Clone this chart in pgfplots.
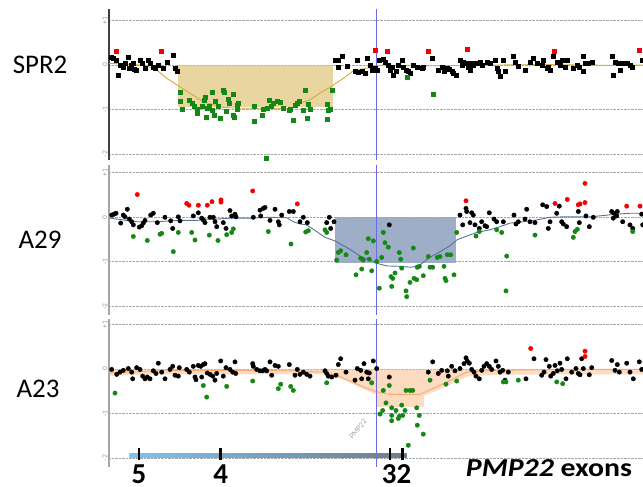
\documentclass[border=0pt]{standalone}
\usepackage{fontspec}
\setmainfont{Carlito}
\usepackage{pgfplots}
\pgfplotsset{compat=1.18}

\definecolor{ptgreen}{RGB}{20,135,20}
\definecolor{ptred}{RGB}{245,0,0}
\definecolor{tanbox}{RGB}{224,195,119}
\definecolor{tanline}{RGB}{215,168,60}
\definecolor{slatebox}{RGB}{154,170,196}
\definecolor{slateline}{RGB}{85,115,155}
\definecolor{peachbox}{RGB}{250,190,140}
\definecolor{peachline}{RGB}{245,170,115}
\definecolor{cursor}{RGB}{105,105,240}
\definecolor{gridgray}{RGB}{165,165,165}
\definecolor{barleft}{RGB}{125,195,240}
\definecolor{barright}{RGB}{110,125,140}

\pgfplotsset{
  panel/.style={
    x=1bp, y=44.6bp,
    xmin=109, xmax=643,
    axis x line=none,
    axis y line*=left,
    y axis line style={-, draw=gray!70, line width=1.4bp},
    ytick={-2,-1,0,1},
    yticklabels={-2,-1,0,+1},
    major tick length=0pt,
    yticklabel style={rotate=90, anchor=south, inner sep=1.5bp,
      font=\fontsize{7.5}{7.5}\selectfont, text=gray!80},
    /pgf/number format/assume math mode=true,
    ymajorgrids,
    grid style={densely dotted, gridgray, line width=0.8bp},
    clip=false,
    anchor=north west,
  },
  pts/.style={only marks, mark=*, mark size=2.2bp, #1, mark options={draw=#1, fill=#1}},
  sqpts/.style={only marks, mark=square*, mark size=2bp, #1, mark options={draw=#1, fill=#1}},
}

\begin{document}
\begin{tikzpicture}
\useasboundingbox (0,0) rectangle (643bp,-487bp);

% ---------------- SPR2 ----------------
\begin{axis}[panel, at={(109bp,-9.25bp)}, ymin=-2.12, ymax=1.25,
  y axis line style={-, draw=black!75, line width=1.8bp}]
\addplot[sqpts=black] coordinates {
(110.7,0.17)(112.7,0.15)(116,0.11)(118.3,-0.22)(120,0)(122.7,-0.06)(125,0.04)(128.3,0.17)
(129.3,-0.07)(130.7,0)(132.7,0.05)(134,-0.1)(136,-0.11)(140,0.11)(141.7,0.05)(145,-0.07)
(148.3,0.11)(150,0.04)(153.3,-0.04)(155,-0.07)(158.3,0)(162.7,-0.07)(166.7,0.07)(173.3,0.22)
(175,-0.07)(176.7,-0.13)
(335,0.11)(338.3,0.1)(338.3,-0.05)(341.7,0.2)(346.7,-0.02)(356.7,0.1)(355,-0.15)(358.3,-0.17)
(361.7,-0.15)(365,-0.19)(367.3,0.15)(370,0)(371.7,-0.11)(375,-0.07)(377.3,-0.11)(379.3,0.11)
(382.7,0.13)(385,0.07)(388.3,0)(390,-0.11)(391.7,-0.04)(393.3,-0.22)(396,-0.15)(398.3,0)
(401.7,0.11)(403.3,-0.04)(406,-0.11)(408.3,-0.15)(410,-0.19)(413.3,0)(416.7,-0.04)(421.7,-0.07)
(423.3,-0.04)(431.7,0.15)(438.3,-0.11)(441.7,-0.04)(444,-0.15)(446.7,-0.07)(449.3,-0.1)
(451.7,-0.15)(453.3,-0.19)(456,-0.22)(460,0.11)(461.7,0)(463.3,0.07)(466.7,0.04)(468.3,-0.04)
(470,-0.11)(471.7,0.05)(473.3,0)(476.7,0.04)(480,0.07)(481.7,0)(486.7,0.07)(490,0.04)(495,0.1)
(496.7,-0.07)(498.3,-0.13)(500,-0.25)(503.3,0.11)(505,-0.15)(512.7,0.2)(515,0.07)(518.3,-0.02)
(525,-0.11)(530,0.07)(533.3,0.15)(536.7,0.04)(541.7,0)(543.3,0.1)(546.7,-0.07)(548.3,-0.04)
(550,-0.11)(553.3,0.2)(556.7,0.07)(560,0)(561.7,0.1)(565,-0.04)(566.7,0.11)(573.3,-0.07)
(576.7,0)(579.3,-0.04)(583.3,0.2)(583.3,-0.15)(585,0.04)(588.3,0.05)(591.7,0.07)(611.7,0.19)
(612.7,-0.22)(615,0.07)(620,-0.11)(618.3,0.05)(623.3,0.04)(626.7,0.04)(630,0)(631.7,-0.04)
(641.7,0.11)
};
\addplot[sqpts=ptgreen] coordinates {
(180,-0.62)(180,-0.82)(182,-0.98)(189.3,-0.78)(191.7,-0.86)(194,-0.93)(196.7,-1.0)(197.3,-1.08)
(201.7,-0.92)(204,-0.78)(205,-0.72)(205.7,-1.17)(207.3,-0.97)(209.3,-0.92)(211.7,-0.62)
(212.3,-1.02)(214,-1.13)(215,-0.82)(218.3,-0.92)(220,-1.19)(222.7,-0.57)(224,-0.62)(226,-1.04)
(228.3,-0.77)(229.3,-0.86)(232.7,-0.65)(233.3,-1.12)(234,-1.17)(236.7,-0.9)(238.3,-0.86)
(237.3,-1.0)(254,-0.93)(254,-1.25)(261.7,-1.12)(262.7,-1.0)(266,-2.08)(266.7,-0.97)
(269.3,-0.78)(270.7,-0.92)(272.7,-0.86)(276.7,-0.82)(280,-0.84)(282.7,-0.97)(289.3,-1.02)
(290,-1.0)(292.7,-1.23)(295,-0.9)(297.3,-0.86)(299.3,-0.82)(302.7,-1.02)(305,-0.56)
(306.7,-1.19)(308.3,-0.87)(310,-1.0)(326.7,-0.87)(327.3,-1.21)(328.3,-1.02)(330,-0.99)
(331.7,-0.57)(406.7,-0.28)(432.7,-0.65)
};
\addplot[sqpts=ptred] coordinates {
(116,0.3)(160.7,0.31)(375,0.34)(386.7,0.3)(428.3,0.3)(466.7,0.35)(554,0.3)(639.3,0.34)
};
\addplot[draw=none, fill=tanbox, fill opacity=0.7] coordinates {
(178,0)(333.3,0)(333.3,-0.95)(178,-0.95)};
\addplot[tanline, line width=0.9bp] coordinates {
(109,0.04)(130,0.01)(145,0)(156.7,-0.11)(166.7,-0.3)(180,-0.49)(190,-0.63)(203,-0.82)
(223,-0.95)(240,-0.97)(276.7,-0.97)(290,-1.0)(300,-0.86)(310,-0.78)(320,-0.63)(330,-0.5)
(343.3,-0.3)(353.3,-0.13)(366.7,-0.07)(383.3,0)(420,-0.02)(460,-0.01)(500,0)(540,0.01)
(580,0)(620,-0.01)(643,0)};
\addplot[cursor, line width=1bp] coordinates {(376.5,-2.12)(376.5,1.25)};
\node[font=\fontsize{27}{27}\selectfont, anchor=center] at (axis cs:40,0) {SPR2};
\end{axis}

% ---------------- A29 ----------------
\begin{axis}[panel, at={(109bp,-165.1bp)}, ymin=-2.18, ymax=1.17]
\addplot[draw=none, fill=slatebox, fill opacity=0.95] coordinates {
(335,0)(455.7,0)(455.7,-1.02)(335,-1.02)};
\addplot[slateline, line width=0.9bp] coordinates {
(110,-0.02)(123.3,-0.06)(136.7,-0.1)(156.7,-0.1)(170,-0.08)(183.3,-0.07)(196.7,-0.07)
(206.7,-0.04)(216.7,-0.04)(230,-0.02)(250,-0.02)(270,0)(286.7,-0.01)(293.3,-0.1)(300,-0.15)
(306.7,-0.17)(316.7,-0.32)(325,-0.45)(335,-0.53)(350,-0.72)(360,-0.87)(370,-0.96)(376.7,-1.03)
(386.7,-1.09)(400,-1.1)(411.7,-1.12)(420,-1.07)(428.3,-0.92)(440,-0.77)(450,-0.64)
(456.7,-0.51)(463.3,-0.45)(476.7,-0.34)(490,-0.28)(500,-0.21)(510,-0.13)(523.3,-0.1)
(536.7,-0.06)(550,0)(563.3,0.01)(590,0.01)(616.7,0.07)(630,0.09)(643,0.09)};
\addplot[pts=black] coordinates {
(111.7,0.05)(114,0.07)(116,0.09)(120.7,-0.13)(123.3,0.05)(125,0.01)(127.3,0.18)(129.3,-0.04)
(131.7,-0.1)(133.3,-0.17)(139.3,-0.22)(141.7,-0.19)(143.3,-0.13)(145,-0.07)(150.7,0.05)
(153.3,0.09)(157.3,-0.12)(165,0)(170.7,-0.08)(172.7,-0.25)(178.3,0.01)(180,-0.08)(193.3,0.03)
(198.3,0.1)(201.7,-0.02)(203.3,-0.06)(205,-0.12)(210,0)(213.3,0)(215,-0.1)(216.7,-0.21)
(223.3,-0.12)(226,-0.25)(230,0.15)(231.7,0.03)(235,0.07)(236,0.01)(253.3,0)(260,0.16)
(263.3,0.2)(265,0.22)(260.7,0.03)(270,-0.07)(275,0.18)(278.3,-0.1)(279.3,-0.17)(281.7,0.05)
(289.3,0.13)(293.3,0.13)(300,-0.1)(303.3,0)(307.3,-0.12)(326.7,-0.12)(329.3,0)(330.7,-0.25)
(334,-0.1)(389.3,-0.17)
(460,0.05)(462.7,-0.17)(466,0.2)(466.7,0.13)(470,-0.12)(471.7,0.1)(473.3,0.05)(475,-0.17)
(479.3,-0.25)(481.7,-0.1)(485,-0.19)(486.7,-0.21)(489.3,0.1)(494,-0.04)(496.7,-0.1)(503.3,-0.1)
(514,0.05)(516,-0.15)(518.3,-0.1)(525,-0.04)(526.7,0.18)(530,-0.1)(535,-0.12)(542.7,0.28)
(546.7,0.24)(548.3,-0.25)(550,-0.1)(556.7,0.09)(559.3,0.25)(561.7,-0.1)(563.3,-0.15)
(566.7,-0.21)(578.3,0.13)(579.3,-0.12)(586,0.03)(589.3,-0.21)(593.3,0)(611.7,0.13)(614,0.09)
(616.7,0.03)(617.3,0.13)(613.3,-0.02)(622.7,-0.1)(630,-0.17)(632.7,-0.25)(641.7,0.07)
(642.7,-0.17)
};
\addplot[pts=ptgreen] coordinates {
(133.3,-0.43)(147.3,-0.52)(160,-0.38)(161.7,-0.36)(173.3,-0.77)(178.3,-0.34)(191.7,-0.34)
(195,-0.51)(209.3,-0.4)(218,-0.52)(226.7,-0.39)(231.7,-0.34)(233.3,-0.26)(268.3,-0.32)
(291,-0.6)(305.7,-0.33)(308.3,-0.3)(325,-0.28)(326.7,-0.34)
(336.7,-0.96)(338.3,-0.79)(340.7,-0.75)(346,-0.84)(356,-1.29)(360.7,-0.92)(361.7,-1.16)
(363.3,-0.96)(366.7,-0.79)(368.3,-0.48)(369.3,-0.94)(371.7,-1.2)(373.3,-0.53)(376.7,-0.99)
(379.3,-1.59)(381.7,-0.9)(383.3,-0.34)(385,-0.57)(388.3,-0.67)(391,-1.33)(391.7,-1.55)
(392.7,-1.37)(395,-1.25)(399.3,-0.79)(400.7,-0.94)(401.7,-1.14)(406,-1.65)(406.7,-1.78)
(410,-1.46)(413.3,-0.69)(414,-1.37)(416.7,-1.4)(417.3,-1.12)(419.3,-1.1)(423.3,-1.31)
(428.3,-0.88)(430,-1.12)(432.7,-1.12)(437.3,-0.9)(440,-0.88)(444,-1.1)(445,-1.37)(446,-1.42)
(447.3,-0.84)(450.7,-0.84)(454,-1.29)(456.7,-0.34)
(476,-0.42)(479.3,-0.32)(496.7,-0.28)(501.7,-0.34)(506.7,-0.87)(506,-1.65)(535,-0.4)
(573.3,-0.45)(575,-0.32)(577.3,-0.27)(632.7,-0.32)
};
\addplot[pts=ptred] coordinates {
(137.3,0.51)(186.7,0.31)(189,0.27)(198.3,0.27)(207.3,0.27)(212,0.35)(221,0.39)(221,0.34)
(252.7,0.59)(297.3,0.3)(466,0.37)(555,0.31)(567.3,0.4)(578.3,0.28)(580,0.3)(585,0.76)
(585,0.33)(626.7,0.25)(640,0.25)
};
\addplot[cursor, line width=1bp] coordinates {(376.5,-2.18)(376.5,1.17)};
\node[font=\fontsize{27}{27}\selectfont, anchor=center] at (axis cs:40,-0.5) {A29};
\end{axis}

% ---------------- A23 ----------------
\begin{axis}[panel, at={(109bp,-318.6bp)}, ymin=-2.2, ymax=1.13]
\addplot[pts=black] coordinates {
(111.7,-0.01)(116.7,-0.12)(120,-0.07)(123.3,-0.03)(128.3,0.01)(131.7,-0.07)(132.7,-0.22)
(136.7,0.03)(140,-0.01)(142.7,-0.16)(145,-0.22)(147.3,-0.18)(150,-0.22)(153.3,-0.04)(156,-0.1)
(158.3,0.13)(161.7,-0.07)(165,-0.22)(170,-0.01)(172.7,0.06)(175,-0.14)(179.3,0.03)(178.3,-0.16)
(186.7,-0.01)(189.3,-0.07)(193.3,0.06)(195,-0.18)(196,-0.24)(198.3,0.08)(200.7,0.06)(203.3,0.1)
(205,0.12)(201.7,-0.18)(207.3,-0.09)(210,-0.12)(212.7,-0.16)(215,-0.25)(216.7,-0.1)(220.7,0.18)
(223.3,-0.16)(226,0.03)(230,-0.01)(232.7,-0.07)(235,0.16)(235.7,-0.1)(252.7,0.12)(253.3,0.06)
(256.7,-0.01)(260,-0.04)(262.7,-0.04)(265,-0.01)(266.7,-0.04)(270,0.16)(271.7,-0.14)(275,0.08)
(278.3,0.06)(289.3,0.1)(295,-0.14)(297.3,-0.01)(300,-0.12)(303.3,-0.07)(306.7,-0.12)
(310,-0.16)(325,-0.04)(326.7,-0.1)(328.3,-0.16)(331.7,-0.18)(336,-0.14)(338.3,0.1)(340.7,0.23)
(346,-0.07)(355,-0.25)(357.3,0.01)(361.7,-0.22)(360.7,-0.03)(364,0.12)(366.7,-0.07)
(369.3,-0.09)(373.3,0.18)(376.7,0.01)(368.3,-0.22)(389.3,-0.18)
(432.7,0.16)(428.3,-0.07)(438.3,-0.1)(441.7,-0.03)(447.3,-0.04)(448.3,-0.16)(451.7,0.06)
(455,-0.04)(460,0.01)(464,0.12)(466,0.25)(467.3,0.18)(469.3,0.13)(471.7,-0.01)(474,-0.07)
(476,-0.16)(479.3,-0.22)(481.7,-0.03)(484,0.06)(486.7,0.12)(489.3,0.06)(491.7,-0.01)(496,0.18)
(498.3,0.06)(500,-0.07)(502.7,-0.03)(505,-0.25)(508.3,-0.07)(526,-0.22)(534,0.23)(541.7,-0.14)
(544,-0.07)(546,0.21)(549.3,0.06)(550.7,-0.16)(553.3,-0.1)(555,0.08)(557.3,-0.04)(560,0.13)
(561.7,-0.01)(566,-0.22)(567.3,0.23)(571.7,-0.07)(576,0.01)(578.3,-0.1)(580,-0.13)(581.7,0.23)
(583.3,0.01)(589.3,-0.13)(591.7,0.03)(611.7,0.19)(615,-0.03)(617.3,0.1)(619.3,-0.07)
(626.7,0.13)(630,-0.07)(633.3,-0.22)(639.3,0.16)(641.7,-0.01)
};
\addplot[pts=ptgreen] coordinates {
(115,-0.54)(203.3,-0.37)(206.7,-0.63)(226.7,-0.39)(252.7,-0.27)(278.3,-0.44)(280.7,-0.34)
(290.7,-0.39)(293.3,-0.48)(326.7,-0.31)(371.7,-0.31)
(380,-1.01)(382.7,-0.93)(383.3,-0.48)(386,-0.76)(389.3,-0.37)(391.7,-0.87)(391.7,-1.04)
(391.7,-1.16)(396,-0.93)(398.3,-1.11)(399.3,-1.06)(401.7,-0.81)(402.7,-1.04)(405,-0.93)
(406,-0.48)(410,-0.48)(412.7,-0.48)(408.3,-1.71)(416.7,-0.87)(417.3,-1.26)(419.3,-1.04)
(423.3,-1.46)(430,-0.25)(446,-0.34)(456.7,-0.27)(503.3,-0.29)(506,-0.29)(518.3,-0.25)
(556.7,-0.29)(562.7,-0.33)
};
\addplot[pts=ptred] coordinates {(530.7,0.46)(585,0.4)(585,0.28)};
\addplot[draw=none, fill=peachbox, fill opacity=0.55] coordinates {
(110,0)(643,0)(643,-0.12)(560,-0.12)(493.3,-0.13)(466.7,-0.17)(443.3,-0.42)(424,-0.6)
(424,-0.85)(376.7,-0.85)(376.7,-0.58)(363.3,-0.45)(350,-0.3)(336.7,-0.18)(323.3,-0.12)
(290,-0.12)(223.3,-0.12)(156.7,-0.12)(110,-0.15)};
\addplot[peachline, line width=0.9bp] coordinates {
(110,-0.09)(156.7,-0.04)(223.3,-0.03)(290,-0.04)(323.3,-0.07)(336.7,-0.14)(350,-0.27)
(363.3,-0.4)(376.7,-0.51)(390,-0.57)(420,-0.57)(443.3,-0.33)(466.7,-0.07)(493.3,-0.03)
(560,-0.01)(643,-0.01)};
\addplot[cursor, line width=1bp] coordinates {(376.5,-2.2)(376.5,1.13)};
% gene bar and exons
\addplot[draw=none, left color=barleft, right color=barright] coordinates {
(129.3,-1.89)(406.7,-1.89)(406.7,-1.98)(129.3,-1.98)};
\addplot[black, line width=2.6bp] coordinates {(139,-1.78)(139,-2.05)};
\addplot[black, line width=2.6bp] coordinates {(220.7,-1.78)(220.7,-2.05)};
\addplot[black, line width=2.6bp] coordinates {(390,-1.78)(390,-2.05)};
\addplot[black, line width=2.6bp] coordinates {(402.7,-1.78)(402.7,-2.05)};
\node[font=\bfseries\fontsize{29}{29}\selectfont, anchor=base, inner sep=0pt] at (axis cs:139,-2.56) {5};
\node[font=\bfseries\fontsize{29}{29}\selectfont, anchor=base, inner sep=0pt] at (axis cs:220.7,-2.56) {4};
\node[font=\bfseries\fontsize{29}{29}\selectfont, anchor=base, inner sep=0pt] at (axis cs:396.5,-2.56) {32};
\node[font=\bfseries\fontsize{26}{26}\selectfont, anchor=base, xscale=1.15, inner sep=0pt] at (axis cs:549,-2.42) {\textit{PMP22} exons};
\node[font=\fontsize{8}{8}\selectfont, text=gray!70, rotate=52, inner sep=0pt] at (axis cs:358,-1.35) {PMP22};
\node[font=\fontsize{27}{27}\selectfont, anchor=center] at (axis cs:38,-0.45) {A23};
\end{axis}
\end{tikzpicture}
\end{document}
